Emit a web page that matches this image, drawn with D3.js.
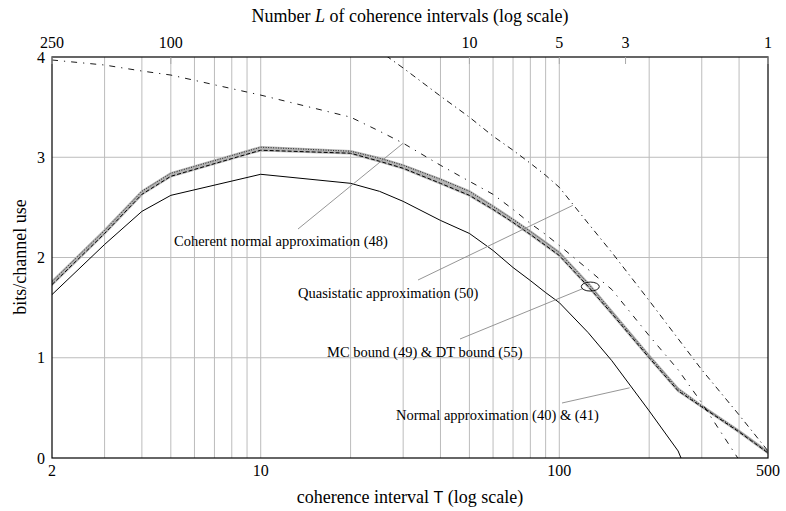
<!DOCTYPE html>
<html>
<head>
<meta charset="utf-8">
<script src="https://cdn.jsdelivr.net/npm/d3@7"></script>
<style>
body { margin: 0; background: #fff; }
text { font-family: "Liberation Serif", "DejaVu Serif", serif; fill: #000; }
</style>
</head>
<body>
<div id="chart"></div>
<script>
// coherence interval T (x values shared by all curves)
var T = [2, 3, 4, 5, 10, 20, 25, 30, 40, 50, 60, 70, 80, 90, 100, 125, 150, 200, 250, 300, 400, 500];

// Normal approximation (40) & (41) - solid
var normalApprox = [1.63, 2.13, 2.46, 2.62, 2.83, 2.74, 2.66, 2.56, 2.37, 2.24, 2.07, 1.90, 1.77, 1.65, 1.55, 1.25, 0.97, 0.47, 0.07, -0.5, null, null];
// MC bound (49) - upper edge of gray band
var mcBound = [1.76, 2.27, 2.66, 2.84, 3.10, 3.06, 2.99, 2.92, 2.78, 2.66, 2.51, 2.38, 2.26, 2.15, 2.05, 1.74, 1.46, 1.02, 0.69, 0.52, 0.27, 0.06];
// DT bound (55) - lower edge of gray band
var dtBound = [1.73, 2.24, 2.63, 2.81, 3.07, 3.04, 2.96, 2.89, 2.74, 2.62, 2.48, 2.35, 2.23, 2.12, 2.02, 1.71, 1.44, 1.00, 0.67, 0.51, 0.26, 0.05];
// Coherent normal approximation (48)
var coherentNormal = [3.97, 3.92, 3.86, 3.82, 3.62, 3.40, 3.26, 3.14, 2.92, 2.76, 2.63, 2.48, 2.34, 2.23, 2.12, 1.88, 1.68, 1.22, 0.88, 0.55, -0.02, null];
// Quasistatic approximation (50)
var quasistatic = [null, null, null, null, null, 4.3, 4.06, 3.89, 3.61, 3.40, 3.21, 3.07, 2.94, 2.82, 2.70, 2.34, 2.05, 1.57, 1.19, 0.88, 0.43, 0.07];

var xTicks = [2, 10, 100, 500];
var yTicks = [0, 1, 2, 3, 4];
var lTicks = [250, 100, 10, 5, 3, 1];   // L = 500 / T
var gridT = [3, 4, 5, 6, 7, 8, 9, 10, 20, 30, 40, 50, 60, 70, 80, 90, 100, 200, 300, 400];

var width = 786,
    height = 511;

var x = d3.scaleLog().domain([2, 500]).range([52, 768]);
var y = d3.scaleLinear().domain([0, 4]).range([458, 57]);

var svg = d3.select("#chart")
    .append("svg")
    .attr("width", width)
    .attr("height", height);

svg.append("clipPath")
    .attr("id", "plot")
    .append("rect")
    .attr("x", x(2))
    .attr("y", y(4))
    .attr("width", x(500) - x(2))
    .attr("height", y(0) - y(4));

// grid
svg.append("g").selectAll("line")
    .data(gridT)
    .enter().append("line")
    .attr("x1", function (d) { return x(d); })
    .attr("x2", function (d) { return x(d); })
    .attr("y1", y(0))
    .attr("y2", y(4))
    .attr("stroke", "#bcbcbc");

svg.append("g").selectAll("line")
    .data([1, 2, 3])
    .enter().append("line")
    .attr("x1", x(2))
    .attr("x2", x(500))
    .attr("y1", function (d) { return y(d); })
    .attr("y2", function (d) { return y(d); })
    .attr("stroke", "#bcbcbc");

function rows(values) {
    return T.map(function (t, i) { return [t, values[i]]; });
}

var line = d3.line()
    .defined(function (d) { return d[1] !== null; })
    .x(function (d) { return x(d[0]); })
    .y(function (d) { return y(d[1]); });

var plot = svg.append("g").attr("clip-path", "url(#plot)");

// gray band between the two bounds
var band = T.map(function (t, i) { return [t, dtBound[i], mcBound[i]]; });
plot.append("path")
    .attr("d", d3.area()
        .x(function (d) { return x(d[0]); })
        .y0(function (d) { return y(d[1]); })
        .y1(function (d) { return y(d[2]); })(band))
    .attr("fill", "#b4b4b4")
    .attr("stroke", "#b4b4b4")
    .attr("stroke-width", 2.4);

var series = [
    {values: dtBound, dash: "4,2", width: 1},
    {values: mcBound, dash: "1,1.5", width: 0.8},
    {values: normalApprox, dash: null, width: 1},
    {values: coherentNormal, dash: "6,6,1.2,6", width: 0.9},
    {values: quasistatic, dash: "6,4,1.2,4", width: 0.9}
];

plot.selectAll("path.curve")
    .data(series)
    .enter().append("path")
    .attr("class", "curve")
    .attr("d", function (d) { return line(rows(d.values)); })
    .attr("fill", "none")
    .attr("stroke", "#000")
    .attr("stroke-width", function (d) { return d.width; })
    .attr("stroke-dasharray", function (d) { return d.dash; });

// frame
svg.append("rect")
    .attr("x", x(2))
    .attr("y", y(4))
    .attr("width", x(500) - x(2))
    .attr("height", y(0) - y(4))
    .attr("fill", "none")
    .attr("stroke", "#000")
    .attr("stroke-width", 1.2);

// top ticks (L)
svg.append("g").selectAll("line")
    .data(lTicks)
    .enter().append("line")
    .attr("x1", function (d) { return x(500 / d); })
    .attr("x2", function (d) { return x(500 / d); })
    .attr("y1", y(4))
    .attr("y2", y(4) + 7)
    .attr("stroke", "#aaa");

// tick labels
svg.append("g").selectAll("text")
    .data(xTicks)
    .enter().append("text")
    .attr("x", function (d) { return x(d); })
    .attr("y", 476)
    .attr("text-anchor", "middle")
    .style("font-size", "16px")
    .text(function (d) { return d; });

svg.append("g").selectAll("text")
    .data(lTicks)
    .enter().append("text")
    .attr("x", function (d) { return x(500 / d); })
    .attr("y", 48)
    .attr("text-anchor", "middle")
    .style("font-size", "16px")
    .text(function (d) { return d; });

svg.append("g").selectAll("text")
    .data(yTicks)
    .enter().append("text")
    .attr("x", 45)
    .attr("y", function (d) { return y(d) + 5.5; })
    .attr("text-anchor", "end")
    .style("font-size", "16px")
    .text(function (d) { return d; });

// axis titles
var topTitle = svg.append("text")
    .attr("x", 410)
    .attr("y", 22)
    .attr("text-anchor", "middle")
    .style("font-size", "18px");
topTitle.append("tspan").text("Number ");
topTitle.append("tspan").style("font-style", "italic").text("L");
topTitle.append("tspan").text(" of coherence intervals (log scale)");

var bottomTitle = svg.append("text")
    .attr("x", 410)
    .attr("y", 503)
    .attr("text-anchor", "middle")
    .style("font-size", "18px");
bottomTitle.append("tspan").text("coherence interval ");
bottomTitle.append("tspan").style("font-family", "'Liberation Sans', sans-serif").style("font-size", "16px").text("T");
bottomTitle.append("tspan").text(" (log scale)");

svg.append("text")
    .attr("transform", "translate(26,257) rotate(-90)")
    .attr("text-anchor", "middle")
    .style("font-size", "18px")
    .text("bits/channel use");

// annotations: label position in pixels, pointer tip on the curve in data units
var notes = [
    {text: "Coherent normal approximation (48)", tx: 174, ty: 246, from: [298, 229], to: [30, 3.14]},
    {text: "Quasistatic approximation (50)", tx: 298, ty: 298, from: [418, 280], to: [111, 2.52]},
    {text: "MC bound (49) & DT bound (55)", tx: 327, ty: 357, from: [460, 339], to: [120, 1.69]},
    {text: "Normal approximation (40) & (41)", tx: 396, ty: 420, from: [562, 403], to: [172, 0.70]}
];

svg.append("g").selectAll("line")
    .data(notes)
    .enter().append("line")
    .attr("x1", function (d) { return d.from[0]; })
    .attr("y1", function (d) { return d.from[1]; })
    .attr("x2", function (d) { return x(d.to[0]); })
    .attr("y2", function (d) { return y(d.to[1]); })
    .attr("stroke", "#8a8a8a")
    .attr("stroke-width", 0.9);

svg.append("g").selectAll("text")
    .data(notes)
    .enter().append("text")
    .attr("x", function (d) { return d.tx; })
    .attr("y", function (d) { return d.ty; })
    .style("font-size", "14.5px")
    .text(function (d) { return d.text; });

svg.append("ellipse")
    .attr("cx", x(127))
    .attr("cy", y(1.71))
    .attr("rx", 9)
    .attr("ry", 4.5)
    .attr("fill", "none")
    .attr("stroke", "#000")
    .attr("stroke-width", 0.9);
</script>
</body>
</html>
